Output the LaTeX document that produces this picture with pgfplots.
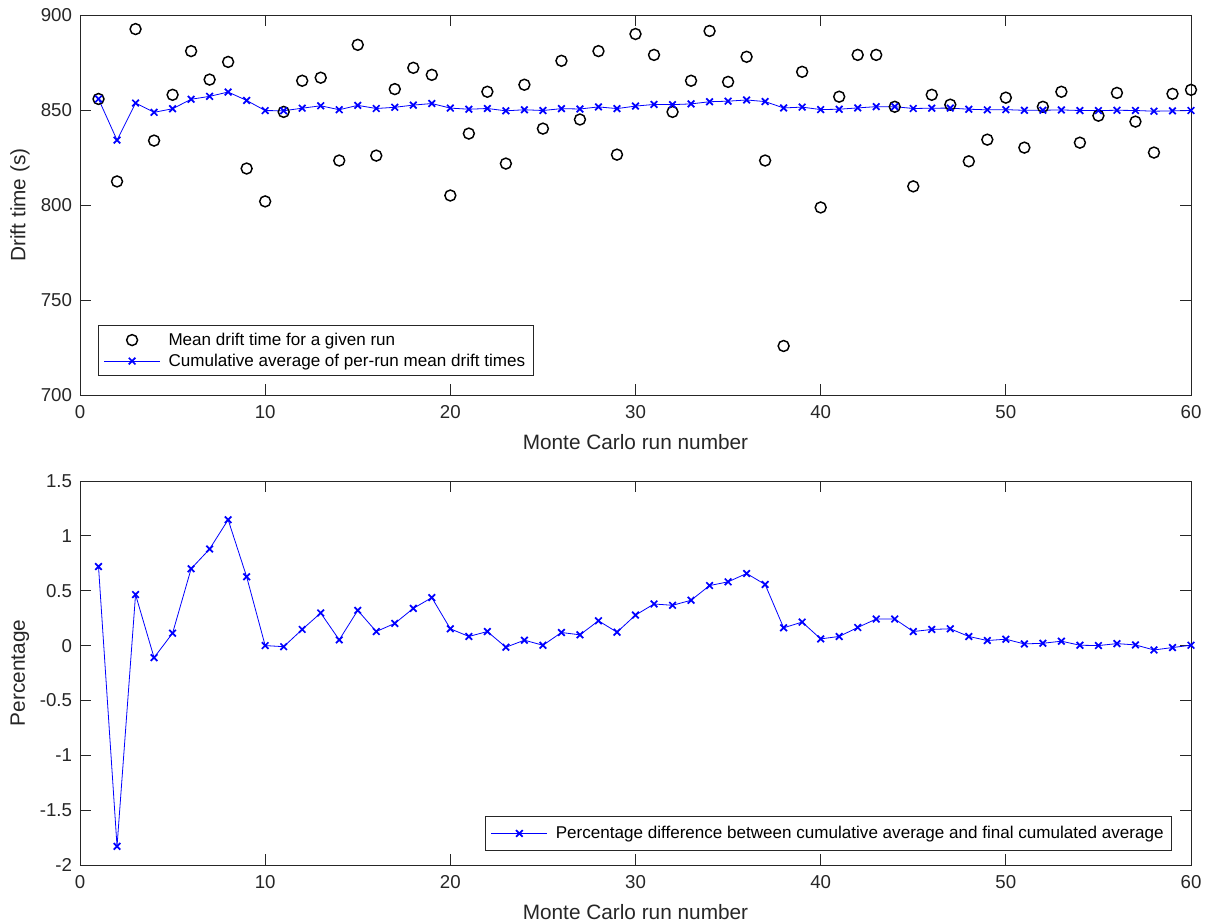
\documentclass[border=0pt]{standalone}
\usepackage{fontspec}
\setmainfont{Liberation Sans}
\usepackage{pgfplots}
\pgfplotsset{compat=1.18}
\definecolor{axgray}{RGB}{38,38,38}
\begin{document}
\begin{tikzpicture}
\useasboundingbox (-60pt,11.25pt) rectangle (847.5pt,-681.75pt);
\pgfplotsset{
  mlstyle/.style={
    scale only axis, width=833.25pt,
    xmin=0, xmax=60, xtick={0,10,...,60},
    tick align=inside, major tick length=8.25pt,
    axis line style={axgray, line width=0.55pt},
    every tick/.style={axgray, line width=0.55pt},
    tick label style={font=\fontsize{14}{16}\selectfont, text=axgray},
    xticklabel shift=4.5pt, yticklabel shift=2.5pt,
    every axis x label/.style={at={(axis description cs:0.5,0)}, anchor=center, yshift=-35.25pt, font=\fontsize{15.6}{18}\selectfont, text=axgray},
    every axis y label/.style={at={(axis description cs:0,0.5)}, anchor=center, rotate=90, yshift=45pt, font=\fontsize{15.6}{18}\selectfont, text=axgray},
    /pgf/number format/assume math mode=true,
    legend style={font=\fontsize{12.8}{15}\selectfont, draw=axgray, line width=0.55pt, inner xsep=4pt, inner ysep=3.5pt, column sep=4pt, row sep=1pt},
    legend cell align=left,
    legend image code/.code={\draw[mark repeat=2,mark phase=2,##1] plot coordinates {(0pt,0pt) (21pt,0pt) (42pt,0pt)};},
  }
}
\begin{axis}[mlstyle, at={(0,0)}, anchor=north west, height=285pt,
  ymin=700, ymax=900, ytick={700,750,...,900},
  xlabel={Monte Carlo run number}, ylabel={Drift time (s)},
  legend style={at={(rel axis cs:0,0)}, anchor=south west, xshift=13.5pt, yshift=14.25pt}]
\addplot[only marks, mark=o, mark size=4.1pt, mark options={line width=1.1pt, black}] coordinates {
(1,855.8)(2,812.4)(3,892.6)(4,833.9)(5,858)(6,881)(7,866)(8,875.3)(9,819.2)(10,801.9)
(11,849)(12,865.4)(13,867)(14,823.4)(15,884.3)(16,826)(17,861)(18,872.2)(19,868.5)(20,805)
(21,837.6)(22,859.6)(23,821.8)(24,863.3)(25,840.2)(26,875.9)(27,845)(28,881)(29,826.5)(30,890)
(31,879)(32,849)(33,865.4)(34,891.6)(35,864.8)(36,878)(37,823.4)(38,725.8)(39,870.1)(40,798.7)
(41,857)(42,879)(43,879)(44,851.7)(45,809.8)(46,858)(47,852.8)(48,823)(49,834.4)(50,856.5)
(51,830.2)(52,851.7)(53,859.6)(54,832.8)(55,847)(56,859)(57,843.9)(58,827.6)(59,858.5)(60,860.6)
};
\addlegendentry{Mean drift time for a given run}
\addplot[blue, line width=0.6pt, mark=x, mark size=3.5pt, mark options={line width=1.3pt}] coordinates {
(1,855.8)(2,834.15)(3,853.65)(4,848.77)(5,850.66)(6,855.65)(7,857.18)(8,859.45)(9,855.03)(10,849.7)
(11,849.6)(12,850.95)(13,852.22)(14,850.14)(15,852.43)(16,850.79)(17,851.42)(18,852.58)(19,853.41)(20,851.0)
(21,850.41)(22,850.79)(23,849.57)(24,850.12)(25,849.73)(26,850.71)(27,850.53)(28,851.62)(29,850.74)(30,852.06)
(31,852.92)(32,852.82)(33,853.21)(34,854.35)(35,854.64)(36,855.28)(37,854.43)(38,851.08)(39,851.52)(40,850.22)
(41,850.41)(42,851.1)(43,851.76)(44,851.76)(45,850.79)(46,850.95)(47,851.0)(48,850.41)(49,850.09)(50,850.19)
(51,849.83)(52,849.88)(53,850.04)(54,849.73)(55,849.7)(56,849.85)(57,849.75)(58,849.36)(59,849.55)(60,849.73)
};
\addlegendentry{Cumulative average of per-run mean drift times}
\end{axis}
\begin{axis}[mlstyle, at={(0,-349.5pt)}, anchor=north west, height=288pt,
  ymin=-2, ymax=1.5, ytick={-2,-1.5,...,1.5},
  yticklabel style={/pgf/number format/fixed, /pgf/number format/precision=1},
  xlabel={Monte Carlo run number}, ylabel={Percentage},
  legend style={at={(rel axis cs:1,0)}, anchor=south east, xshift=-14.25pt, yshift=10.5pt, inner ysep=5.5pt}]
\addplot[blue, line width=0.6pt, mark=x, mark size=3.5pt, mark options={line width=1.3pt}] coordinates {
(1,0.72)(2,-1.83)(3,0.465)(4,-0.11)(5,0.113)(6,0.70)(7,0.88)(8,1.147)(9,0.627)(10,0)
(11,-0.01)(12,0.147)(13,0.297)(14,0.052)(15,0.321)(16,0.128)(17,0.202)(18,0.339)(19,0.437)(20,0.153)
(21,0.083)(22,0.128)(23,-0.015)(24,0.049)(25,0.003)(26,0.119)(27,0.098)(28,0.226)(29,0.122)(30,0.278)
(31,0.379)(32,0.367)(33,0.413)(34,0.547)(35,0.581)(36,0.657)(37,0.557)(38,0.162)(39,0.214)(40,0.061)
(41,0.083)(42,0.165)(43,0.242)(44,0.242)(45,0.128)(46,0.147)(47,0.153)(48,0.083)(49,0.046)(50,0.058)
(51,0.015)(52,0.021)(53,0.040)(54,0.003)(55,0)(56,0.018)(57,0.006)(58,-0.04)(59,-0.018)(60,0.003)
};
\addlegendentry{Percentage difference between cumulative average and final cumulated average}
\end{axis}
\end{tikzpicture}
\end{document}
